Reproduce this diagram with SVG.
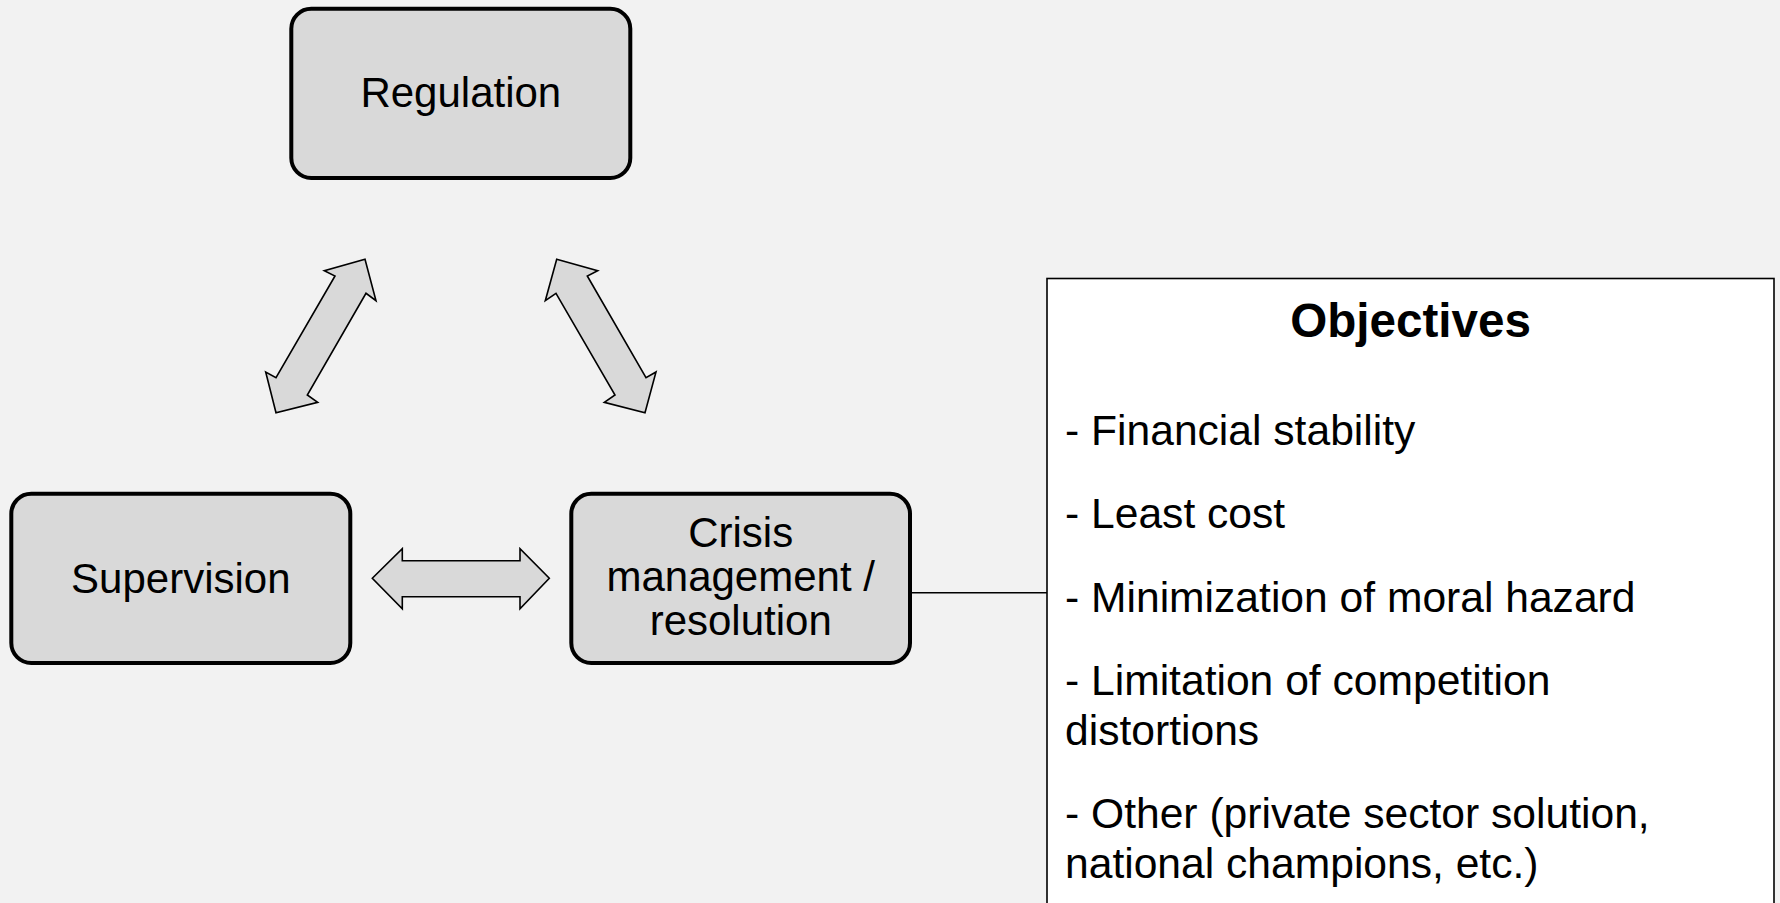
<svg xmlns="http://www.w3.org/2000/svg" width="1780" height="903" viewBox="0 0 1780 903">
<style>
.node{fill:#d9d9d9;stroke:#000;stroke-width:4}
.lbl{font-family:"Liberation Sans",Arial,sans-serif;font-size:42px;fill:#000;text-anchor:middle}
.arr{fill:#d9d9d9;stroke:#000;stroke-width:1.6;stroke-linejoin:miter}
.obj{font-family:"Liberation Sans",Arial,sans-serif;font-size:42.6px;fill:#000}
</style>
<rect x="0" y="0" width="1780" height="903" fill="#f2f2f2"/>
<g id="connectors">
<polygon class="arr" points="365,259.3 376,300.7 366,293.3 307.3,395 317.7,402.3 276,412.7 265.7,372 276,377.7 335,276 324.3,270.7"/>
<polygon class="arr" points="556.7,259.3 597.7,270.7 587.3,276 646,377.7 656,372 645,412.7 604.3,402.3 615,395 556,293.3 545.3,300.7"/>
<polygon class="arr" points="372.3,578.3 402.3,548.7 402.3,560.7 520,560.7 520,548.7 549.3,578.3 520,608.7 520,596.7 402.3,596.7 402.3,608.7"/>
<line x1="912" y1="592.7" x2="1047" y2="592.7" stroke="#000" stroke-width="1.6"/>
</g>
<g id="regulation">
<rect class="node" x="291.3" y="8.7" width="339" height="169.3" rx="20" ry="20"/>
<text class="lbl" x="460.8" y="107.3">Regulation</text>
</g>
<g id="supervision">
<rect class="node" x="11.3" y="493.7" width="339" height="169.3" rx="20" ry="20"/>
<text class="lbl" x="180.8" y="592.5">Supervision</text>
</g>
<g id="crisis">
<rect class="node" x="571.3" y="493.7" width="338.7" height="169.3" rx="20" ry="20"/>
<text class="lbl" x="740.7" y="546.5">Crisis</text>
<text class="lbl" x="740.7" y="590.5">management /</text>
<text class="lbl" x="740.7" y="635">resolution</text>
</g>
<g id="objectives">
<rect x="1047" y="278.5" width="727" height="640" fill="#ffffff" stroke="#000" stroke-width="1.6"/>
<text x="1410.5" y="337" font-family="'Liberation Sans',Arial,sans-serif" font-size="47.6" font-weight="bold" text-anchor="middle" fill="#000">Objectives</text>
<text class="obj" x="1065" y="445">- Financial stability</text>
<text class="obj" x="1065" y="528">- Least cost</text>
<text class="obj" x="1065" y="611.5">- Minimization of moral hazard</text>
<text class="obj" x="1065" y="695">- Limitation of competition</text>
<text class="obj" x="1065" y="744.5">distortions</text>
<text class="obj" x="1065" y="828">- Other (private sector solution,</text>
<text class="obj" x="1065" y="877.5">national champions, etc.)</text>
</g>
</svg>
